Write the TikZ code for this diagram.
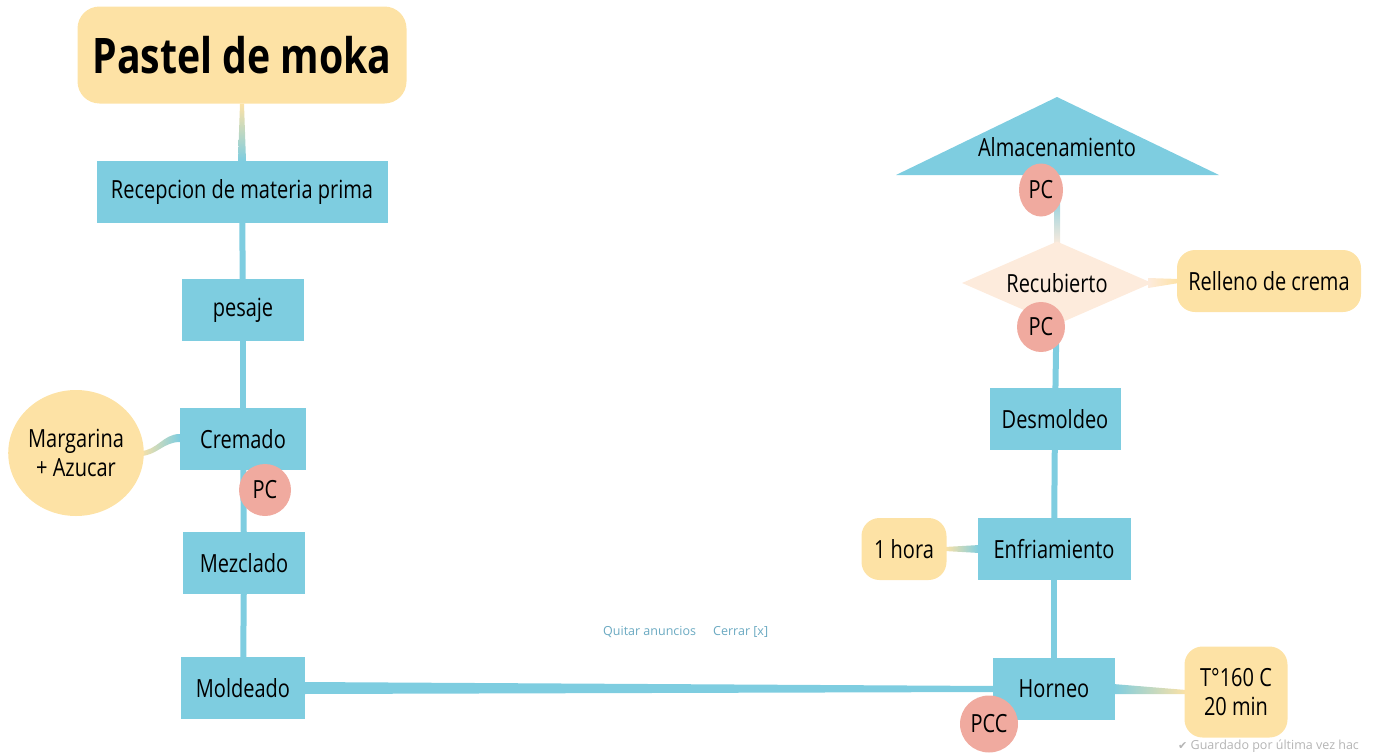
\documentclass[tikz,border=0pt]{standalone}
\usepackage{fontspec}
\setmainfont{Open Sans}[FakeStretch=0.8]
\newfontfamily\hintfont{Open Sans}
\newfontfamily\symfont{DejaVu Sans}
\usetikzlibrary{shapes.geometric, positioning, backgrounds, calc}
\definecolor{mkyellow}{HTML}{FDE2A5}
\definecolor{mkblue}{HTML}{7ECDE0}
\definecolor{mkpink}{HTML}{F0AA9F}
\definecolor{mkpeach}{HTML}{FDEBDC}
\definecolor{mklink}{HTML}{6AA9C1}
\definecolor{mkgrey}{HTML}{B4B4B4}

\begin{document}
\begin{tikzpicture}[
    x=1pt, y=-1pt,
    stepbox/.style={rectangle, fill=mkblue, minimum height=62pt, inner sep=0pt, font=\fontsize{25}{29}\selectfont},
    notebox/.style={rectangle, fill=mkyellow, rounded corners=18pt, align=center, inner sep=0pt, font=\fontsize{25}{29}\selectfont},
    ctrl/.style={ellipse, fill=mkpink, inner sep=0pt, font=\fontsize{25}{29}\selectfont},
    link/.style={line width=6pt, draw=mkblue},
    hint/.style={font=\hintfont\fontsize{12.5}{15}\selectfont, inner sep=0pt}
]
\useasboundingbox (0,0) rectangle (1374,755);

% left column
\node[notebox, rounded corners=22pt, minimum width=329pt, minimum height=97pt, font=\fontsize{49}{55}\selectfont\bfseries] (title) at (242,55) {Pastel de moka};
\node[stepbox, minimum width=291pt] (recep) at (242,192) {Recepcion de materia prima};
\node[stepbox, minimum width=122pt] (pesaje) at (243,310) {pesaje};
\node[stepbox, minimum width=126pt] (cremado) at (243,439) {Cremado};
\node[ellipse, fill=mkyellow, minimum width=132pt, minimum height=126pt, inner sep=0pt, align=center, font=\fontsize{25}{29}\selectfont] (marg) at (76,453) {Margarina\\+ Azucar};
\node[stepbox, minimum width=122pt] (mezclado) at (244,563) {Mezclado};
\node[stepbox, minimum width=124pt] (moldeado) at (243,688) {Moldeado};

% right column
\node[stepbox, minimum width=122pt] (horneo) at (1054,689) {Horneo};
\node[notebox, minimum width=103pt, minimum height=91pt] (temp) at (1236,692) {T°160 C\\20 min};
\node[stepbox, minimum width=153pt] (enfri) at (1054,549) {Enfriamiento};
\node[notebox, minimum width=85pt, minimum height=62pt] (hora) at (904,549) {1 hora};
\node[stepbox, minimum width=131pt] (desmol) at (1055,419) {Desmoldeo};
\node[diamond, aspect=2.3, fill=mkpeach, minimum width=190pt, minimum height=83pt, inner sep=0pt, font=\fontsize{25}{29}\selectfont] (recub) at (1057,283) {Recubierto};
\node[notebox, minimum width=184pt, minimum height=62pt] (relleno) at (1269,281) {Relleno de crema};
\fill[mkblue] (1057,97) -- (1219,175) -- (896,175) -- cycle;
\node[inner sep=0pt, font=\fontsize{25}{29}\selectfont] (almacen) at (1057,147) {Almacenamiento};

% control points
\node[ctrl, minimum width=52pt, minimum height=52pt] (pc1) at (265,490) {PC};
\node[ctrl, minimum width=44pt, minimum height=53pt] (pc2) at (1041,190) {PC};
\node[ctrl, minimum width=48pt, minimum height=50pt] (pc3) at (1041,327) {PC};
\node[ctrl, minimum width=58pt, minimum height=57pt] (pcc) at (989,724) {PCC};

% connectors
\begin{scope}[on background layer]
\shade[top color=mkyellow, bottom color=mkblue] ($(title.south)+(-2,0)$) -- ($(title.south)+(2,0)$) -- ($(recep.north)+(4,0)$) -- ($(recep.north)+(-4,0)$) -- cycle;
\draw[link] (recep) -- (pesaje);
\draw[link] (pesaje) -- (cremado);
\shade[left color=mkyellow, right color=mkblue] ($(marg.east)+(-4,3)$) to[out=0, in=180] ($(cremado.west)+(0,3)$) -- ($(cremado.west)+(0,-5)$) to[out=180, in=0] ($(marg.east)+(-4,-2)$) -- cycle;
\draw[link] (cremado) -- (mezclado);
\draw[link] (mezclado) -- (moldeado);
\fill[mkblue] ($(moldeado.east)+(-2,-6)$) -- ($(horneo.west)+(2,-3)$) -- ($(horneo.west)+(2,3)$) -- ($(moldeado.east)+(-2,6)$) -- cycle;
\shade[left color=mkblue, right color=mkyellow] ($(horneo.east)+(-2,-5)$) -- ($(temp.west)+(2,-2)$) -- ($(temp.west)+(2,2)$) -- ($(horneo.east)+(-2,5)$) -- cycle;
\draw[link] (horneo) -- (enfri);
\shade[left color=mkyellow, right color=mkblue] ($(hora.east)+(-2,-2)$) -- ($(enfri.west)+(2,-4)$) -- ($(enfri.west)+(2,4)$) -- ($(hora.east)+(-2,2)$) -- cycle;
\draw[link] (enfri) -- (desmol);
\draw[link] (desmol) -- (recub);
\shade[left color=mkpeach, right color=mkyellow] ($(recub.east)+(-4,-5)$) -- ($(relleno.west)+(2,-2)$) -- ($(relleno.west)+(2,2)$) -- ($(recub.east)+(-4,5)$) -- cycle;
\shade[top color=mkblue, bottom color=mkpeach] ($(recub.north)+(-3,4)$) rectangle ($(recub.north |- pc2.center)+(3,0)$);
\end{scope}

% page hints
\node[hint, text=mklink, anchor=west] (quitar) at (603,632) {Quitar anuncios};
\node[hint, text=mklink, anchor=west] (cerrar) at (713,632) {Cerrar [x]};
\node[hint, text=mkgrey, anchor=west] (guardado) at (1178,746) {{\symfont\fontsize{11}{13}\selectfont ✔} Guardado por última vez hac};
\end{tikzpicture}
\end{document}
